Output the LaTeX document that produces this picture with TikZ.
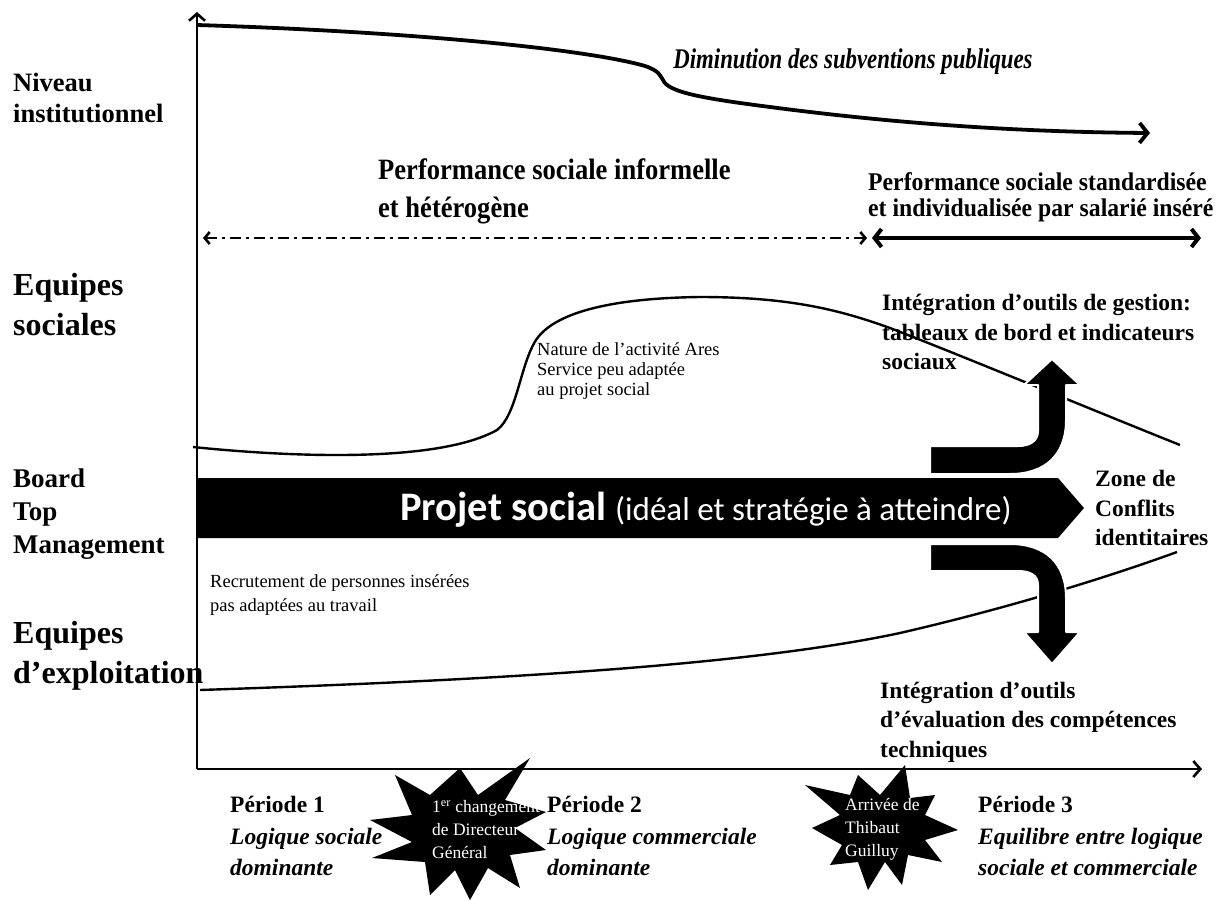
\documentclass[tikz,border=0pt]{standalone}
\usepackage{fontspec}
\setmainfont{Liberation Serif}
\newfontfamily\condA[FakeStretch=0.8]{Liberation Serif}
\newfontfamily\condB[FakeStretch=0.9]{Liberation Serif}
\newfontfamily\condC[FakeStretch=0.93]{Liberation Serif}
\newfontfamily\calfont{Carlito}
\usetikzlibrary{arrows.meta}
\begin{document}
\begin{tikzpicture}[x=1pt,y=-1pt,
  txt/.style={anchor=west,inner sep=0pt,align=left},
  sidelbl/.style={txt,font=\bfseries\fontsize{26.5}{31}\selectfont},
  biglbl/.style={txt,font=\bfseries\fontsize{32}{40}\selectfont},
  boldlbl/.style={txt,font=\bfseries\fontsize{23.5}{29.5}\selectfont},
  smalllbl/.style={txt,font=\fontsize{18.5}{21}\selectfont},
  startxt/.style={txt,text=white,font=\fontsize{17.5}{23}\selectfont},
  periodlbl/.style={txt,font=\fontsize{23.5}{31.5}\selectfont},
  axisline/.style={line width=2.6pt,-{Straight Barb[length=7pt,width=16pt]}},
  curveline/.style={line width=2.4pt},
  bentarrow/.style={fill=black,draw=white,line width=2pt,line join=round},
  starshape/.style={fill=black,draw=none}
]
\useasboundingbox (0,0) rectangle (1221,900);

% axes
\coordinate (O) at (197,769);
\coordinate (Ytop) at (197,12);
\coordinate (Xend) at (1202,769);
\draw[axisline] (O) -- (Ytop);
\draw[axisline] (O) -- (Xend);

% institutional curve
\coordinate (T0) at (197,25);
\coordinate (T1) at (663,80);
\coordinate (T2) at (1150,133);
\draw[line width=3.8pt,-{Straight Barb[length=8pt,width=20pt]}]
  (T0) .. controls (420,32) and (590,50) .. (645,66)
  .. controls (660,71) and (660,76) .. (T1)
  .. controls (668,92) and (700,98) .. (770,107)
  .. controls (900,124) and (1020,132) .. (T2);

% left labels
\node[sidelbl] (niv) at (13,98) {Niveau\\institutionnel};
\node[biglbl] (eqs) at (13,305) {Equipes\\sociales};
\node[sidelbl,font=\bfseries\fontsize{27}{33}\selectfont] (board) at (13,514) {Board\\Top\\Management};
\node[biglbl] (eqe) at (13,656) {Equipes\\d'exploitation};

% top texts
\node[inner sep=0pt,font=\condA\bfseries\itshape\fontsize{28.5}{30}\selectfont] (dimi) at (853,62) {Diminution des subventions publiques};
\node[txt,font=\condB\bfseries\fontsize{29.5}{38}\selectfont] (perfA) at (378,191) {Performance sociale informelle\\et hétérogène};
\node[txt,font=\condC\bfseries\fontsize{25.5}{26}\selectfont] (perfB) at (868,197) {Performance sociale standardisée\\et individualisée par salarié inséré};

% performance arrows
\coordinate (PA) at (203,238);
\coordinate (PB) at (867,238);
\coordinate (PC) at (872,238);
\coordinate (PD) at (1201,238);
\draw[line width=2.6pt,dash pattern=on 11pt off 5pt on 3pt off 5pt,
  {Straight Barb[length=5pt,width=12pt]}-{Straight Barb[length=5pt,width=12pt]}] (PA) -- (PB);
\draw[line width=4pt,{Straight Barb[length=7pt,width=18pt]}-{Straight Barb[length=7pt,width=18pt]}] (PC) -- (PD);

% social curve
\coordinate (S0) at (193,447);
\coordinate (S1) at (1180,445);
\draw[curveline] (S0) .. controls (300,458) and (440,462) .. (497,430)
  .. controls (517,415) and (520,365) .. (536,340)
  .. controls (556,310) and (620,298) .. (700,297)
  .. controls (790,297) and (840,310) .. (890,328)
  .. controls (960,355) and (1100,413) .. (S1);
\node[smalllbl,font=\fontsize{18.5}{20}\selectfont] (nat) at (537,371) {Nature de l'activité Ares\\Service peu adaptée\\au projet social};

% exploitation curve
\coordinate (E0) at (200,690);
\coordinate (E1) at (1177,552);
\draw[curveline] (E0) .. controls (500,680) and (750,665) .. (900,633)
  .. controls (1000,610) and (1100,580) .. (E1);
\node[smalllbl,font=\fontsize{18.5}{24}\selectfont] (recr) at (210,595) {Recrutement de personnes insérées\\pas adaptées au travail};

% project bar
\fill[black] (197,478) -- (1058,478) -- (1084,508) -- (1058,538) -- (197,538) -- cycle;
\node[inner sep=0pt,text=white] (proj) at (706,510)
  {\calfont\fontsize{40.5}{42}\selectfont\bfseries Projet social \fontsize{33}{36}\mdseries\selectfont(idéal et stratégie à atteindre)};

% bent arrows
\filldraw[bentarrow] (930,446) -- (1018,446) .. controls (1030,446) and (1038,441) .. (1038,431)
  -- (1038,385) -- (1024,385) -- (1052,359) -- (1080,385) -- (1066,385) -- (1066,420)
  .. controls (1066,455) and (1045,474) .. (1010,474) -- (930,474) -- cycle;
\filldraw[bentarrow] (930,544) -- (1010,544) .. controls (1045,544) and (1066,563) .. (1066,598)
  -- (1066,632) -- (1080,632) -- (1052,664) -- (1024,632) -- (1038,632) -- (1038,585)
  .. controls (1038,575) and (1030,571) .. (1018,571) -- (930,571) -- cycle;

% right texts
\node[boldlbl] (intA) at (882,332) {Intégration d'outils de gestion:\\tableaux de bord et indicateurs\\sociaux};
\node[boldlbl] (zone) at (1095,508) {Zone de\\Conflits\\identitaires};
\node[boldlbl] (intB) at (880,722) {Intégration d'outils\\d'évaluation des compétences\\techniques};

% stars
\fill[starshape] (530,758) -- (505,800) -- (546,812) -- (515,828) -- (546,850) -- (510,855)
  -- (520,888) -- (488,868) -- (470,900) -- (455,870) -- (430,895) -- (425,862)
  -- (372,858) -- (412,842) -- (370,820) -- (412,815) -- (395,775) -- (430,795)
  -- (460,768) -- (478,795) -- cycle;
\node[startxt] (chg) at (432,830) {1\textsuperscript{er} changement\\de Directeur\\Général};
\fill[starshape] (905,765) -- (910,798) -- (935,795) -- (925,815) -- (958,830) -- (925,840)
  -- (942,862) -- (908,855) -- (902,885) -- (885,862) -- (868,890) -- (858,862)
  -- (830,865) -- (842,845) -- (812,828) -- (840,815) -- (805,785) -- (850,795)
  -- (858,775) -- (880,795) -- cycle;
\node[startxt] (arr) at (845,829) {Arrivée de\\Thibaut\\Guilluy};

% periods
\node[periodlbl] (p1) at (230,836) {\textbf{Période 1}\\\textbf{\itshape Logique sociale}\\\textbf{\itshape dominante}};
\node[periodlbl] (p2) at (547,836) {\textbf{Période 2}\\\textbf{\itshape Logique commerciale}\\\textbf{\itshape dominante}};
\node[periodlbl] (p3) at (978,836) {\textbf{Période 3}\\\textbf{\itshape Equilibre entre logique}\\\textbf{\itshape sociale et commerciale}};
\end{tikzpicture}
\end{document}
